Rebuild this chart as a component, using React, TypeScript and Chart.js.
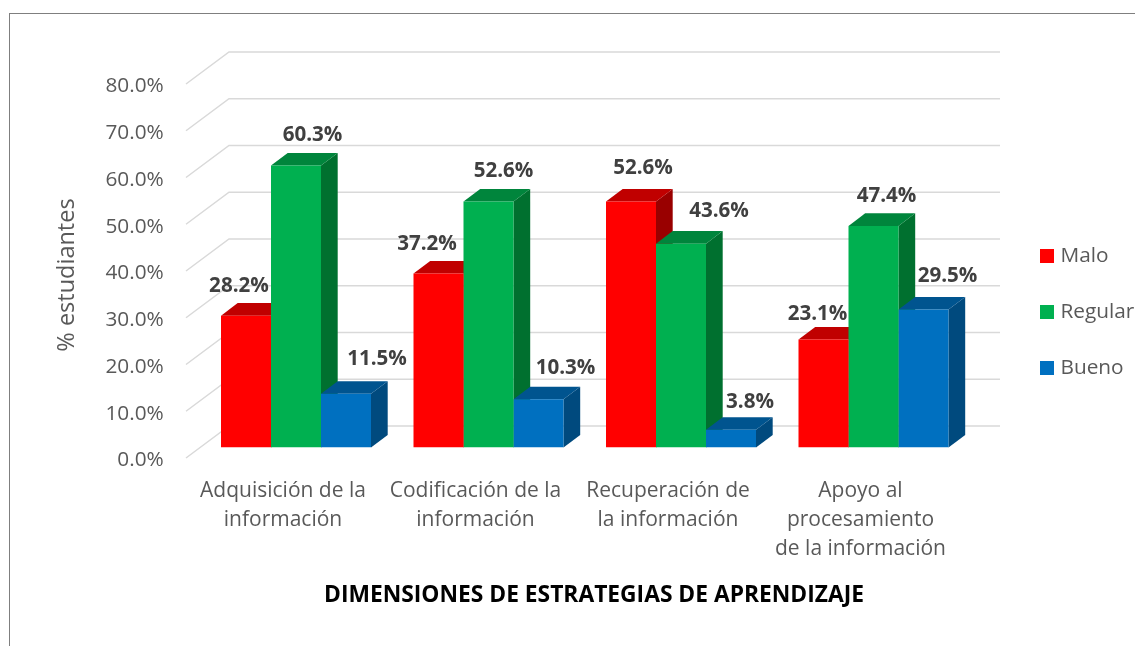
import React, { useEffect, useRef } from "react";
import { Chart, registerables } from "chart.js";

Chart.register(...registerables);

const categories = [
  ["Adquisición de la", "información"],
  ["Codificación de la", "información"],
  ["Recuperación de", "la información"],
  ["Apoyo al", "procesamiento", "de la información"],
];
const malo = [28.2, 37.2, 52.6, 23.1];
const regular = [60.3, 52.6, 43.6, 47.4];
const bueno = [11.5, 10.3, 3.8, 29.5];

const xTitle = "DIMENSIONES DE ESTRATEGIAS DE APRENDIZAJE";
const yTitle = "% estudiantes";

const FONT = '"Open Sans", sans-serif';
const GREY = "#595959";
const AREA = { left: 199.75, right: 969.75, top: 73.5, bottom: 447.5 };
const DEPTH = { x: 16.7, y: 12.6 };

const faces: Record<string, { top: string; side: string }> = {
  Malo: { top: "#C00000", side: "#990000" },
  Regular: { top: "#00853C", side: "#00702F" },
  Bueno: { top: "#00548F", side: "#004A7E" },
};

// label shift from the bar's top centre, by dataset then category
const labelShift = [
  [[-7, -30], [-11.5, -29], [12, -33], [-6, -25]],
  [[16.5, -30], [15, -30], [38, -33], [13, -30]],
  [[31, -35], [27, -31], [19, -28], [24, -33]],
];

const poly = (ctx: CanvasRenderingContext2D, pts: number[][], fill: string) => {
  ctx.fillStyle = fill;
  ctx.beginPath();
  pts.forEach(([x, y], i) => (i ? ctx.lineTo(x, y) : ctx.moveTo(x, y)));
  ctx.closePath();
  ctx.fill();
};

const scene3d = {
  id: "scene3d",
  beforeDatasetsDraw(chart: any) {
    const { ctx, scales } = chart;
    ctx.save();
    ctx.strokeStyle = "#D9D9D9";
    ctx.lineWidth = 1.5;
    for (const t of scales.y.ticks) {
      const y = scales.y.getPixelForValue(t.value);
      ctx.beginPath();
      ctx.moveTo(186, y + 10.5);
      ctx.lineTo(229, y - 21.5);
      ctx.lineTo(1000, y - 21.5);
      ctx.stroke();
    }
    chart.data.datasets.forEach((ds: any, i: number) => {
      const f = faces[ds.label];
      chart.getDatasetMeta(i).data.forEach((bar: any) => {
        const l = bar.x - bar.width / 2;
        const r = bar.x + bar.width / 2;
        const t = bar.y;
        const b = bar.base;
        poly(ctx, [[r, t], [r + DEPTH.x, t - DEPTH.y], [r + DEPTH.x, b - DEPTH.y], [r, b]], f.side);
        poly(ctx, [[l, t], [l + DEPTH.x, t - DEPTH.y], [r + DEPTH.x, t - DEPTH.y], [r, t]], f.top);
      });
    });
    ctx.restore();
  },
  afterDatasetsDraw(chart: any) {
    const { ctx } = chart;
    ctx.save();
    ctx.font = `bold 20.6px ${FONT}`;
    ctx.fillStyle = "#404040";
    ctx.textAlign = "center";
    ctx.textBaseline = "middle";
    chart.data.datasets.forEach((ds: any, i: number) => {
      chart.getDatasetMeta(i).data.forEach((bar: any, j: number) => {
        const [dx, dy] = labelShift[i][j];
        ctx.fillText(ds.data[j].toFixed(1) + "%", bar.x + dx, bar.y + dy);
      });
    });
    ctx.restore();
  },
  afterDraw(chart: any) {
    const { ctx } = chart;
    ctx.save();
    ctx.textBaseline = "middle";
    // axis titles
    ctx.fillStyle = "#000000";
    ctx.textAlign = "center";
    ctx.font = `bold 22.8px ${FONT}`;
    ctx.fillText(xTitle, 594, 596);
    ctx.save();
    ctx.translate(67, 275);
    ctx.rotate(-Math.PI / 2);
    ctx.fillStyle = GREY;
    ctx.font = `23.5px ${FONT}`;
    ctx.fillText(yTitle, 0, 0);
    ctx.restore();
    // legend
    ctx.textAlign = "left";
    ctx.font = `20.8px ${FONT}`;
    chart.data.datasets.forEach((ds: any, i: number) => {
      const y = 256 + i * 56;
      ctx.fillStyle = ds.backgroundColor;
      ctx.fillRect(1040, y - 7, 14, 14);
      ctx.fillStyle = GREY;
      ctx.fillText(ds.label, 1060.5, y);
    });
    ctx.restore();
  },
};

export default function App() {
  const ref = useRef<HTMLCanvasElement>(null);
  useEffect(() => {
    const chart = new Chart(ref.current!, {
      type: "bar",
      data: {
        labels: categories as any,
        datasets: [
          { label: "Malo", data: malo, backgroundColor: "#FF0000" },
          { label: "Regular", data: regular, backgroundColor: "#00B050" },
          { label: "Bueno", data: bueno, backgroundColor: "#0070C0" },
        ],
      },
      options: {
        animation: false,
        responsive: false,
        layout: {
          padding: { top: AREA.top, right: 1135 - AREA.right, left: 0, bottom: 0 },
        },
        datasets: { bar: { barPercentage: 1, categoryPercentage: 150 / 192.5 } },
        plugins: { legend: { display: false }, title: { display: false }, tooltip: { enabled: false } },
        scales: {
          x: {
            grid: { display: false },
            border: { display: false },
            afterFit: (s: any) => { s.height = 646 - AREA.bottom; },
            ticks: {
              autoSkip: false,
              maxRotation: 0,
              minRotation: 0,
              padding: 21,
              labelOffset: -13,
              color: GREY,
              font: { family: FONT, size: 21, lineHeight: "29px" },
            },
          },
          y: {
            min: 0,
            max: 80,
            grid: { display: false },
            border: { display: false },
            afterFit: (s: any) => { s.width = AREA.left; },
            ticks: {
              stepSize: 10,
              padding: 28,
              labelOffset: 13,
              color: GREY,
              font: { family: FONT, size: 20.8 },
              callback: (v: any) => Number(v).toFixed(1) + "%",
            },
          },
        },
      },
      plugins: [scene3d],
    } as any);
    return () => chart.destroy();
  }, []);
  return (
    <div style={{ position: "absolute", left: 0, top: 0, width: 1135, height: 646, background: "#fff", overflow: "hidden" }}>
      <canvas ref={ref} width={1135} height={646} style={{ display: "block" }} />
      <div style={{ position: "absolute", left: 9, top: 13, width: 1126, height: 633, borderLeft: "1px solid #7F7F7F", borderTop: "1px solid #7F7F7F" }} />
    </div>
  );
}
